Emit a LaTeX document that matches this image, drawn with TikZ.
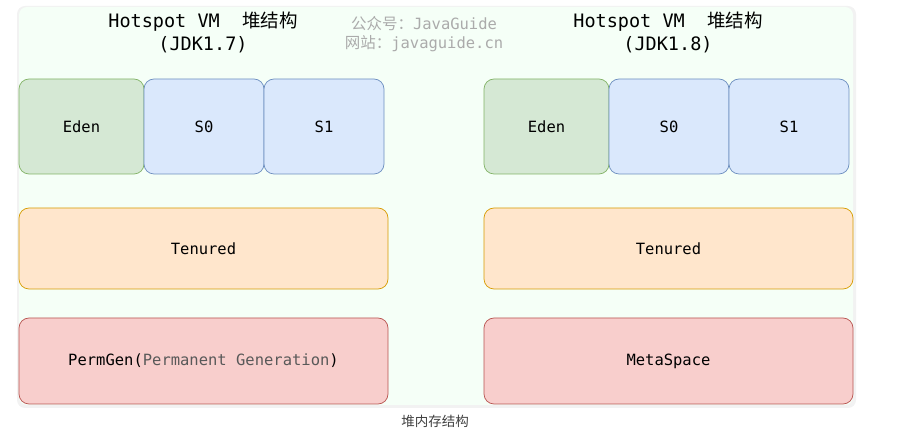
\documentclass[tikz,border=0pt]{standalone}
\usepackage{fontspec}
\setmonofont{DejaVu Sans Mono}
\newfontfamily\cjk{Noto Sans CJK SC}
\usetikzlibrary{positioning}
\definecolor{panelfill}{HTML}{F5FFF7}
\definecolor{edenfill}{HTML}{D5E8D4}
\definecolor{edenline}{HTML}{82B366}
\definecolor{survfill}{HTML}{DAE8FC}
\definecolor{survline}{HTML}{6C8EBF}
\definecolor{oldfill}{HTML}{FFE6CC}
\definecolor{oldline}{HTML}{D79B00}
\definecolor{permfill}{HTML}{F8CECC}
\definecolor{permline}{HTML}{B85450}
\definecolor{marktext}{HTML}{ABABAB}
\newcommand\leftx{19}
\newcommand\rightx{484}
\tikzset{
  region/.style={draw, rounded corners=10pt, outer sep=0pt, inner sep=0pt,
    line width=0.7pt, anchor=north west,
    font=\ttfamily\fontsize{15.5}{18}\selectfont},
  edenbox/.style={region, fill=edenfill, draw=edenline, minimum width=125pt, minimum height=95pt},
  survbox/.style={region, fill=survfill, draw=survline, minimum width=120pt, minimum height=95pt},
  oldbox/.style={region, fill=oldfill, draw=oldline, minimum width=369pt, minimum height=81pt},
  permbox/.style={region, fill=permfill, draw=permline, minimum width=369pt, minimum height=86pt},
  titlenode/.style={align=center, font=\ttfamily\fontsize{18.5}{23}\selectfont},
}
\begin{document}
\begin{tikzpicture}[x=1pt, y=-1pt]
	\useasboundingbox (0, 0) rectangle (906, 435);

	% Hintergrund
	\fill [black!5, rounded corners=8pt] (17, 6) rectangle (856, 408);
	\fill [panelfill, rounded corners=8pt] (19, 7) rectangle (853, 405);

	% Titel
	\node [titlenode] (title7) at (203, 32) {Hotspot VM \ {\cjk 堆结构}\\(JDK1.7)};
	\node [titlenode] (title8) at (668, 32) {Hotspot VM \ {\cjk 堆结构}\\(JDK1.8)};
	\node [align=center, text=marktext, font=\ttfamily\fontsize{15.5}{19}\selectfont] (mark) at (424, 34)
		{{\cjk 公众号：}JavaGuide\\{\cjk 网站：}javaguide.cn};

	% JDK 1.7
	\node [edenbox] (eden7) at (\leftx, 79) {Eden};
	\node [survbox, right=0pt of eden7.north east, anchor=north west] (szero7) {S0};
	\node [survbox, right=0pt of szero7.north east, anchor=north west] (sone7) {S1};
	\node [oldbox] (tenured7) at (\leftx, 208) {Tenured};
	\node [permbox] (permgen) at (\leftx, 318) {PermGen(\textcolor{black!65}{Permanent Generation})};

	% JDK 1.8
	\node [edenbox] (eden8) at (\rightx, 79) {Eden};
	\node [survbox, right=0pt of eden8.north east, anchor=north west] (szero8) {S0};
	\node [survbox, right=0pt of szero8.north east, anchor=north west] (sone8) {S1};
	\node [oldbox] (tenured8) at (\rightx, 208) {Tenured};
	\node [permbox] (metaspace) at (\rightx, 318) {MetaSpace};

	% Bildunterschrift
	\node [text=black!75, font=\cjk\fontsize{13.5}{15}\selectfont] (caption) at (435, 421) {堆内存结构};
\end{tikzpicture}
\end{document}
